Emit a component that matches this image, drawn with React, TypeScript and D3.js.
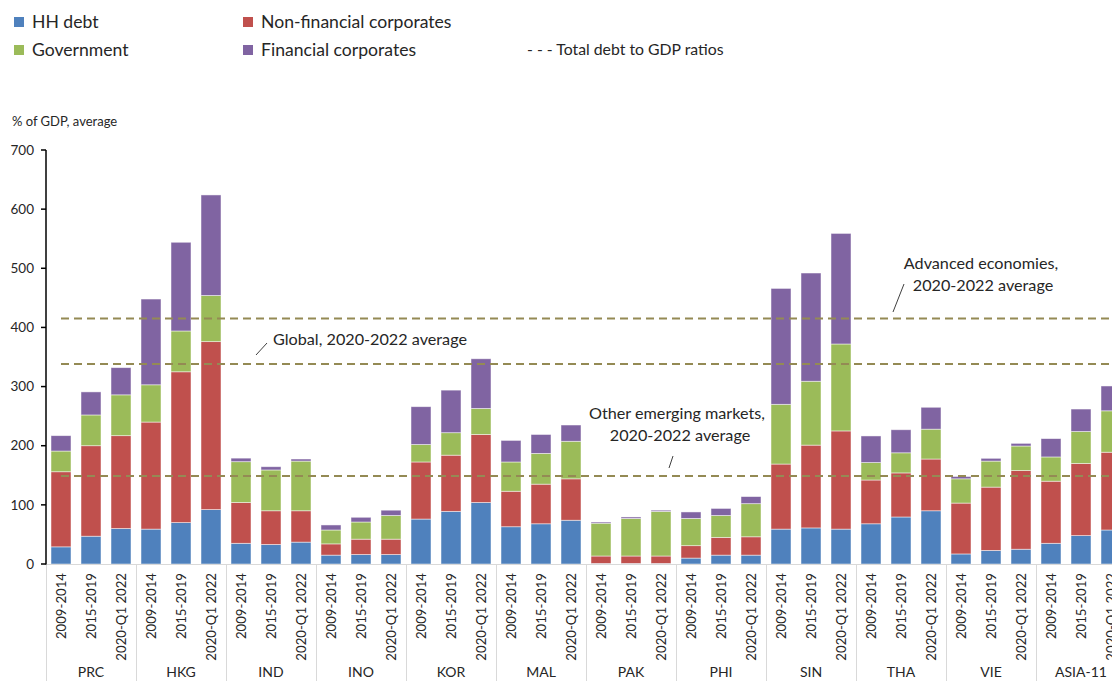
import React from "react";
import * as d3 from "d3";

const groups = ["PRC", "HKG", "IND", "INO", "KOR", "MAL", "PAK", "PHI", "SIN", "THA", "VIE", "ASIA-11"];
const periods = ["2009-2014", "2015-2019", "2020-Q1 2022"];

// order: per group, 3 periods
const hhDebt = [
  29, 47, 60, 59, 70, 92, 35, 33, 37, 15, 16, 16, 76, 89, 104, 63, 68, 74,
  1, 1, 1, 10, 15, 15, 59, 61, 59, 68, 79.5, 90, 17, 23, 25, 35, 48, 57.5,
];
const nonFinCorp = [
  127, 153, 157, 181, 255, 284, 69, 57, 53, 19, 26, 26, 96.5, 95, 115, 60, 67, 70,
  12.5, 12.5, 12.5, 21, 30, 31, 110, 140, 166, 74, 74.5, 87.5, 86, 107, 133, 105, 122, 131.5,
];
const government = [
  35, 52, 69, 63, 69, 78, 69, 69, 84, 23.5, 29, 40, 29.5, 38, 44, 49.5, 52, 63.5,
  55.5, 63.5, 75.5, 46, 37, 56, 101, 108, 147, 29.5, 34, 50.5, 41, 44, 41.5, 41, 54, 70,
];
const finCorp = [
  26, 39, 46, 145, 150, 170, 6, 5.5, 3.5, 8.5, 8, 9, 64, 72, 84, 36.5, 32, 27.5,
  2, 2.5, 2, 11, 12, 12, 196, 183, 187, 45, 39, 37, 4, 4.7, 4.5, 31, 38, 42,
];

const seriesNames = ["HH debt", "Non-financial corporates", "Government", "Financial corporates"];
const seriesColors = ["#4F81BD", "#C0504D", "#9BBB59", "#8064A2"];
const yTicks = [0, 100, 200, 300, 400, 500, 600, 700];

const refNames = ["Advanced economies", "Global", "Other emerging markets"];
const refValues = [415, 338, 149];

const W = 1112;
const H = 681;
const FONT = "Lato, 'Open Sans', sans-serif";

export default function App() {
  const cats = groups.flatMap((g) => periods.map((p) => `${g}|${p}`));
  const x = d3.scaleBand<string>().domain(cats).range([46, 46 + 1080]).paddingInner(1 / 3).paddingOuter(1 / 6);
  const y = d3.scaleLinear().domain([0, 700]).range([564, 150]);

  const rows = cats.map((c, i) => ({
    cat: c,
    hh: hhDebt[i],
    nfc: nonFinCorp[i],
    gov: government[i],
    fc: finCorp[i],
  }));
  const keys = ["hh", "nfc", "gov", "fc"];
  const stacked = d3.stack<any>().keys(keys)(rows);

  const groupW = 90;
  const firstCenter = (x(cats[0]) ?? 0) + x.bandwidth() / 2;
  const lastCenter = (x(cats[cats.length - 1]) ?? 0) + x.bandwidth() / 2;

  return (
    <svg
      width={W}
      height={H}
      style={{ position: "absolute", left: 0, top: 0, background: "#fff", fontFamily: FONT, overflow: "hidden" }}
    >
      {/* legend */}
      <g fontSize={17.6} fill="#262626">
        {seriesNames.map((n, i) => {
          const col = i % 2 === 0 ? 0 : 1;
          const row = i < 2 ? 0 : 1;
          const lx = col === 0 ? 14 : 243;
          const ly = row === 0 ? 17 : 45;
          return (
            <g key={n}>
              <rect x={lx} y={ly} width={10} height={10} fill={seriesColors[i]} />
              <text x={lx + 18} y={ly + 11}>
                {n}
              </text>
            </g>
          );
        })}
        <text x={527} y={55} fontSize={15.8}>
          - - - Total debt to GDP ratios
        </text>
      </g>

      {/* y axis title */}
      <text x={12} y={126} fontSize={13} fill="#262626">
        % of GDP, average
      </text>

      {/* bars */}
      {stacked.map((s, si) => (
        <g key={s.key} fill={seriesColors[si]}>
          {s.map((d, i) => (
            <rect
              key={i}
              x={x(cats[i])}
              y={y(d[1])}
              width={x.bandwidth()}
              height={Math.max(0, y(d[0]) - y(d[1]))}
              stroke="#ffffff"
              strokeOpacity={0.6}
              strokeWidth={0.8}
            />
          ))}
        </g>
      ))}

      {/* reference lines */}
      {refValues.map((v, i) => (
        <line
          key={refNames[i]}
          x1={firstCenter}
          x2={lastCenter}
          y1={y(v)}
          y2={y(v)}
          stroke="#948A54"
          strokeWidth={2}
          strokeDasharray="8,5"
        />
      ))}

      {/* x axis line */}
      <line x1={46} x2={W + 20} y1={564.5} y2={564.5} stroke="#D9D9D9" strokeWidth={1} />
      {/* group separators */}
      {groups.map((g, gi) => (
        <line
          key={g}
          x1={46 + gi * groupW + 0.5}
          x2={46 + gi * groupW + 0.5}
          y1={564}
          y2={H}
          stroke="#D9D9D9"
          strokeWidth={1}
        />
      ))}

      {/* y axis */}
      <line x1={46} x2={46} y1={150} y2={564.5} stroke="#000" strokeWidth={1.5} />
      {yTicks.map((t) => (
        <g key={t}>
          <line x1={41} x2={46} y1={y(t)} y2={y(t)} stroke="#000" strokeWidth={1.5} />
          <text x={34} y={y(t)} dy="0.35em" textAnchor="end" fontSize={13.5} fill="#262626">
            {t}
          </text>
        </g>
      ))}

      {/* x tick labels */}
      {cats.map((c, i) => {
        const cx = (x(c) ?? 0) + x.bandwidth() / 2;
        const label = periods[i % 3];
        return (
          <text
            key={c}
            transform={`translate(${cx + 5},573) rotate(-90)`}
            textAnchor="end"
            fontSize={13.2}
            fill="#262626"
          >
            {label}
          </text>
        );
      })}

      {/* group labels */}
      {groups.map((g, gi) => (
        <text
          key={g}
          x={46 + gi * groupW + groupW / 2}
          y={677}
          textAnchor="middle"
          fontSize={14}
          fill="#262626"
        >
          {g}
        </text>
      ))}

      {/* annotations */}
      <g fontSize={16.2} fill="#262626">
        <text x={273} y={345}>
          Global, 2020-2022 average
        </text>
        <line x1={256} y1={355} x2={267} y2={343} stroke="#404040" strokeWidth={1} />

        <text x={981} y={269} textAnchor="middle">
          Advanced economies,
        </text>
        <text x={983} y={291} textAnchor="middle">
          2020-2022 average
        </text>
        <line x1={904} y1={284} x2={893} y2={312} stroke="#404040" strokeWidth={1} />

        <text x={677} y={419} textAnchor="middle">
          Other emerging markets,
        </text>
        <text x={680} y={441} textAnchor="middle">
          2020-2022 average
        </text>
        <line x1={673} y1={456} x2={669} y2={468} stroke="#404040" strokeWidth={1} />
      </g>
    </svg>
  );
}
